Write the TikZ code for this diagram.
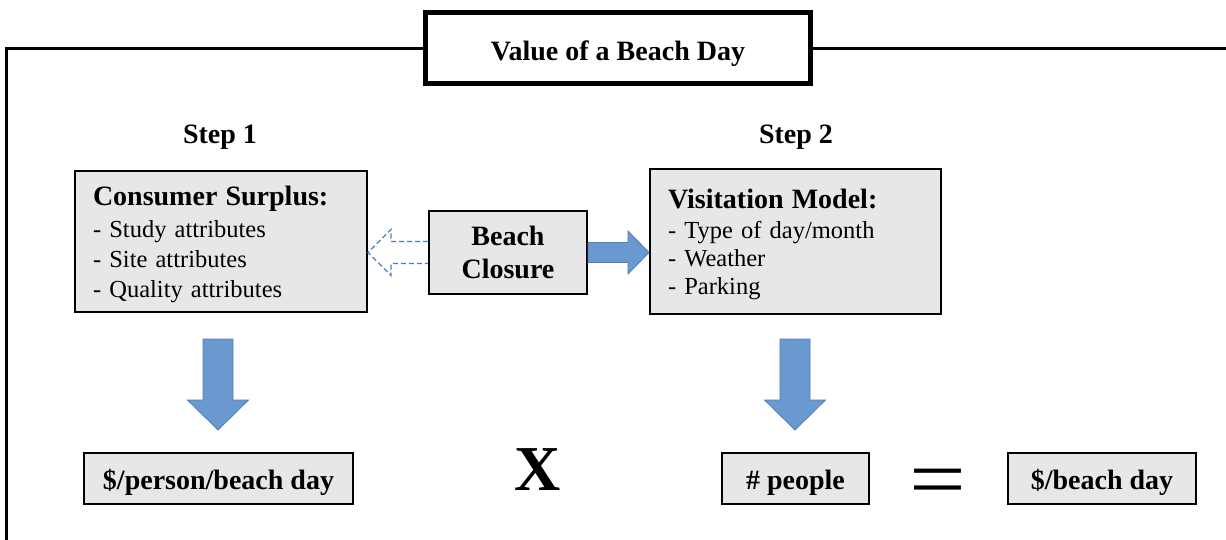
\documentclass[tikz,border=0pt]{standalone}
\usepackage{fontspec}
\setmainfont{Liberation Serif}
\usetikzlibrary{calc}
\definecolor{boxgray}{RGB}{231,231,231}
\definecolor{arrowblue}{RGB}{106,153,208}
\definecolor{arrowedge}{RGB}{80,126,182}

\begin{document}
\begin{tikzpicture}[x=1pt,y=-1pt,
  box/.style={draw=black, line width=2pt, fill=boxgray, inner sep=0pt},
  headfont/.style={font=\fontsize{28}{33}\selectfont\bfseries},
  listfont/.style={font=\fontsize{24.5}{30}\selectfont},
  blockarrow/.style={fill=arrowblue, draw=arrowedge, line width=0.8pt, line join=miter},
  ghostarrow/.style={draw=arrowedge, dash pattern=on 5pt off 3pt, line width=1.4pt, line join=miter}]
\clip (0,0) rectangle (1226,540);
\useasboundingbox (0,0) rectangle (1226,540);

% title and outer frame
\node[draw, line width=5pt, fill=white, minimum width=385pt, minimum height=71pt,
      text height=25pt, text depth=1pt, inner sep=0pt, headfont] (title) at (618,48.5)
      {Value of a Beach Day};
\coordinate (frameL) at (6.5,560);
\coordinate (frameR) at (1240,48.5);
\draw[line width=3pt] (title.west) -| (frameL);
\draw[line width=3pt] (title.east) -- (frameR);

% step headings
\node[headfont, anchor=base] (step1) at (220,144) {Step 1};
\node[headfont, anchor=base] (step2) at (796,144) {Step 2};

% model boxes
\node[box, text width=256pt, inner xsep=18pt, minimum height=141pt, align=left,
      listfont] (cs) at (221,241.5)
  {\rule{0pt}{25.5pt}{\fontsize{28}{30}\selectfont\bfseries Consumer Surplus:}\\[2pt]
   - Study attributes\\
   - Site attributes\\
   - Quality attributes};
\node[box, text width=255pt, inner xsep=18pt, minimum height=145pt, align=left,
      font=\fontsize{24.5}{28}\selectfont] (vm) at (795.5,241.5)
  {\rule{0pt}{25pt}{\fontsize{28}{30}\selectfont\bfseries Visitation Model:}\\[2pt]
   - Type of day/month\\
   - Weather\\
   - Parking};
\node[box, minimum width=158pt, minimum height=83pt, align=center, headfont]
  (bc) at (508,252.5) {Beach\\Closure};

% arrows out of the closure box
\draw[blockarrow]
  ($(bc.east)+(0,-10)$) -- ($(bc.east -| vm.west)+(-21,-10)$) -- ++(0,-11.5)
  -- (bc.east -| vm.west) -- ++(-21,21.5) -- ++(0,-11.5)
  -- ($(bc.east)+(0,10)$) -- cycle;
\draw[ghostarrow]
  ($(bc.west)+(0,-11)$) -- ($(bc.west -| cs.east)+(23,-11)$) -- ++(0,-12)
  -- (bc.west -| cs.east) -- ++(23,23) -- ++(0,-12)
  -- ($(bc.west)+(0,11)$);

% downward arrows
\coordinate (d1top) at (218,339);
\coordinate (d1tip) at (218,430);
\coordinate (d2top) at (795,339);
\coordinate (d2tip) at (795,430);
\foreach \t/\p in {d1top/d1tip, d2top/d2tip}{
  \draw[blockarrow]
    ($(\t)+(-15,0)$) -- ($(\t)+(15,0)$) -- ($(\p)+(15,-30)$) -- ($(\p)+(30.5,-30)$)
    -- (\p) -- ($(\p)+(-30.5,-30)$) -- ($(\p)+(-15,-30)$) -- cycle;
}

% result line
\node[box, minimum width=269pt, minimum height=51pt, text height=21pt, text depth=0pt,
      headfont] (pp) at (218.5,478.5) {\$/person/beach day};
\node[font=\fontsize{64}{70}\selectfont\bfseries, anchor=base] (times) at (537.5,490) {X};
\node[box, minimum width=147pt, minimum height=51pt, text height=21pt, text depth=0pt,
      headfont] (np) at (795.5,478.5) {\# people};
\node[font=\fontsize{84}{84}\selectfont, anchor=base] (eq) at (938,507) {\scalebox{1.2}[1]{=}};
\node[box, minimum width=188pt, minimum height=51pt, text height=21pt, text depth=0pt,
      headfont] (bd) at (1102,478.5) {\$/beach day};
\end{tikzpicture}
\end{document}
